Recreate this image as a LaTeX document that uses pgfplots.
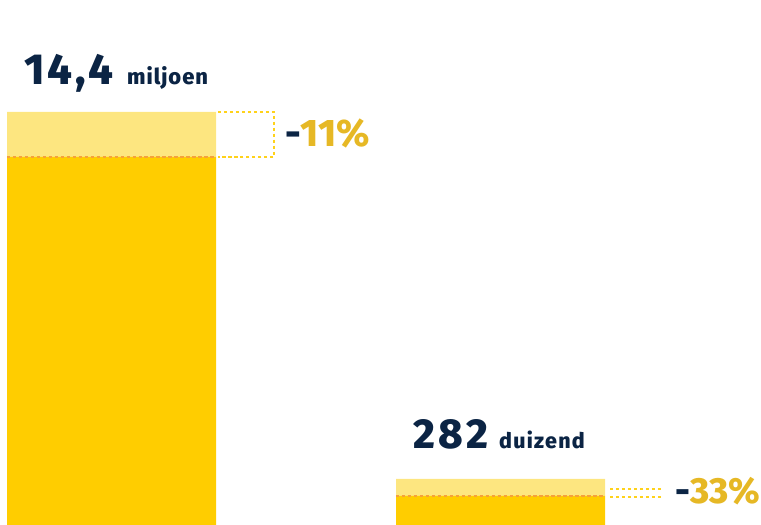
\documentclass[border=0pt]{standalone}
\usepackage{fontspec}
\setmainfont{Fira Sans}[BoldFont={Fira Sans ExtraBold}]
\usepackage{pgfplots}
\pgfplotsset{compat=1.18}
\definecolor{navy}{HTML}{0B2444}
\definecolor{barDark}{HTML}{FFCD00}
\definecolor{barLight}{HTML}{FDE680}
\definecolor{goldText}{HTML}{E6B825}
\definecolor{orangeDash}{HTML}{F5A23A}
\definecolor{yelDash}{HTML}{FFD21A}
\begin{document}
\begin{tikzpicture}
\path[use as bounding box] (0,0) rectangle (761bp,525bp);
\begin{axis}[
  at={(0,0)}, anchor=south west,
  scale only axis, width=761bp, height=525bp,
  xmin=0, xmax=761, ymin=0, ymax=525,
  hide axis, clip=false,
  ybar stacked, bar width=209,
]
\addplot[fill=barDark, draw=none] coordinates {(111.5,368) (500.5,29)};
\addplot[fill=barLight, draw=none] coordinates {(111.5,45) (500.5,17)};
\end{axis}
\begin{axis}[
  at={(0,0)}, anchor=south west,
  scale only axis, width=761bp, height=525bp,
  xmin=0, xmax=761, ymin=0, ymax=525,
  hide axis, clip=false,
]
\addplot[orangeDash, line width=1.3pt, dash pattern=on 3.5pt off 2.5pt] coordinates {(7,368) (216,368)};
\addplot[orangeDash, line width=1.3pt, dash pattern=on 3.5pt off 2.5pt] coordinates {(396,29) (605,29)};
\addplot[yelDash, line width=1.3pt, dash pattern=on 3.5pt off 2.5pt] coordinates {(218,413) (274,413) (274,368) (218,368)};
\addplot[yelDash, line width=1.3pt, dash pattern=on 3.5pt off 2.5pt] coordinates {(610,36) (663,36)};
\addplot[yelDash, line width=1.3pt, dash pattern=on 3.5pt off 2.5pt] coordinates {(610,28) (663,28)};
\node[anchor=base west, inner sep=0pt, text=navy, font=\fontsize{43.5}{43.5}\selectfont\bfseries\addfontfeature{LetterSpace=7}] at (axis cs:24,440) {14,4};
\node[anchor=base west, inner sep=0pt, text=navy, font=\fontsize{22}{22}\selectfont\bfseries\addfontfeature{LetterSpace=4.5}] at (axis cs:127,440) {miljoen};
\node[anchor=base west, inner sep=0pt, font=\fontsize{38.5}{38.5}\selectfont\bfseries] at (axis cs:285,378) {\textcolor{navy}{-}\textcolor{goldText}{11\%}};
\node[anchor=base west, inner sep=0pt, text=navy, font=\fontsize{42}{42}\selectfont\bfseries\addfontfeature{LetterSpace=9}] at (axis cs:413,76) {282};
\node[anchor=base west, inner sep=0pt, text=navy, font=\fontsize{21.5}{21.5}\selectfont\bfseries\addfontfeature{LetterSpace=6}] at (axis cs:499,76) {duizend};
\node[anchor=base west, inner sep=0pt, font=\fontsize{36.5}{36.5}\selectfont\bfseries] at (axis cs:675,22) {\textcolor{navy}{-}\textcolor{goldText}{33\%}};
\end{axis}
\end{tikzpicture}
\end{document}
